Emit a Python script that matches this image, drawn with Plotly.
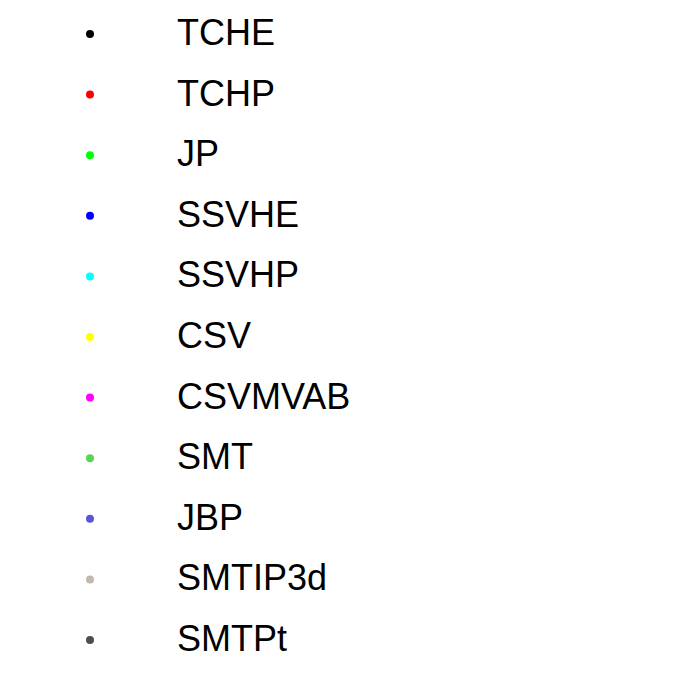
import plotly.graph_objects as go

names = ["TCHE", "TCHP", "JP", "SSVHE", "SSVHP", "CSV", "CSVMVAB", "SMT", "JBP", "SMTIP3d", "SMTPt"]
colors = ["#000000", "#ff0000", "#00ff00", "#0000ff", "#00ffff", "#ffff00", "#ff00ff",
          "#59d454", "#5954d9", "#c2b8ae", "#4d4d4d"]

rows = list(range(len(names)))

fig = go.Figure()
fig.add_trace(go.Scatter(x=[0] * len(rows), y=rows, mode="markers",
                         marker=dict(color=colors, size=8, line=dict(width=0)),
                         hoverinfo="skip", showlegend=False))
fig.add_trace(go.Scatter(x=[1] * len(rows), y=rows, mode="text", text=names,
                         textposition="middle right", yaxis="y2",
                         textfont=dict(family="Liberation Sans, Arial", size=36, color="black"),
                         hoverinfo="skip", showlegend=False))

y_lo = 10 + 34 / 60.6
y_hi = -34 / 60.6
shift = 2 / 60.6
fig.update_layout(
    width=696, height=674,
    margin=dict(l=0, r=0, t=0, b=0),
    paper_bgcolor="white", plot_bgcolor="white",
    xaxis=dict(visible=False, range=[-90 / 87, (696 - 90) / 87], fixedrange=True),
    yaxis=dict(visible=False, range=[y_lo, y_hi], fixedrange=True),
    yaxis2=dict(visible=False, range=[y_lo - shift, y_hi - shift], fixedrange=True,
                overlaying="y"),
    showlegend=False,
)
fig.write_html("out.html")
